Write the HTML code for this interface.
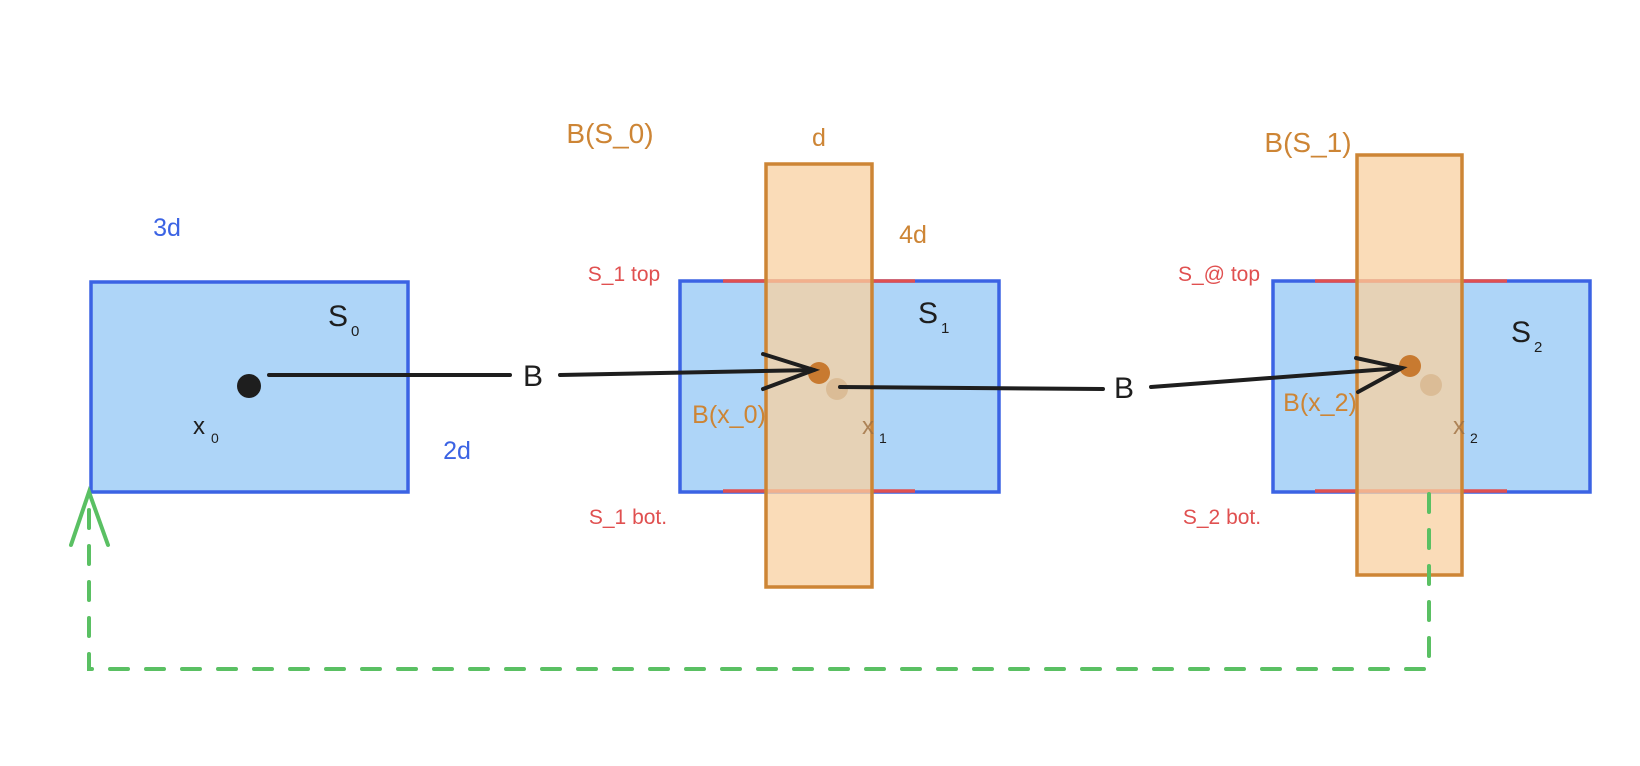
<!DOCTYPE html>
<html><head><meta charset="utf-8"><style>
html,body{margin:0;padding:0;background:#fff;}
svg{display:block;}
text{font-family:"Liberation Sans",sans-serif;}
</style></head><body>
<svg width="1640" height="766" viewBox="0 0 1640 766" xmlns="http://www.w3.org/2000/svg">
<rect width="1640" height="766" fill="#fff"/>
<!-- S0 -->
<rect x="91" y="282" width="317" height="210" fill="#aed5f8" stroke="#3b63e4" stroke-width="3.5"/>
<!-- S1 -->
<rect x="680" y="281" width="319" height="211" fill="#aed5f8" stroke="#3b63e4" stroke-width="3.5"/>
<line x1="723" y1="281" x2="915" y2="281" stroke="#e05050" stroke-width="3.5"/>
<line x1="723" y1="491" x2="915" y2="491" stroke="#e05050" stroke-width="3.5"/>
<!-- S2 -->
<rect x="1273" y="281" width="317" height="211" fill="#aed5f8" stroke="#3b63e4" stroke-width="3.5"/>
<line x1="1315" y1="281" x2="1507" y2="281" stroke="#e05050" stroke-width="3.5"/>
<line x1="1315" y1="491" x2="1507" y2="491" stroke="#e05050" stroke-width="3.5"/>
<!-- orange bands -->
<rect x="766" y="164" width="106" height="423" fill="#f8d0a0" fill-opacity="0.75" stroke="#cd8535" stroke-width="3.5"/>
<rect x="1357" y="155" width="105" height="420" fill="#f8d0a0" fill-opacity="0.75" stroke="#cd8535" stroke-width="3.5"/>
<!-- dots -->
<circle cx="249" cy="386" r="12" fill="#1e1e1e"/>
<circle cx="819" cy="373" r="11" fill="#c87a30"/>
<circle cx="837" cy="389" r="11" fill="#d8b890" opacity="0.85"/>
<circle cx="1410" cy="366" r="11" fill="#c87a30"/>
<circle cx="1431" cy="385" r="11" fill="#d8b890" opacity="0.85"/>
<!-- arrows -->
<g stroke="#1e1e1e" stroke-width="4" fill="none" stroke-linecap="round">
<line x1="269" y1="375" x2="510" y2="375"/>
<line x1="560" y1="375" x2="814" y2="370"/>
<polyline points="763,354 814,370 763,389"/>
<line x1="840" y1="387" x2="1103" y2="389"/>
<line x1="1151" y1="387" x2="1402" y2="368"/>
<polyline points="1356,358 1402,368 1358,392"/>
</g>
<!-- green dashed -->
<g stroke="#5ac063" stroke-width="4" fill="none" stroke-linecap="round">
<polyline points="1429,494 1429,669 89,669 89,495" stroke-dasharray="18 18"/>
<polyline points="71,545 89,492 108,545"/>
</g>
<!-- labels -->
<g font-size="25" text-anchor="middle">
<text x="167" y="236" fill="#3b63e4">3d</text>
<text x="457" y="459" fill="#3b63e4">2d</text>
<text x="610" y="143" fill="#cd8535" font-size="28">B(S_0)</text>
<text x="819" y="146" fill="#cd8535">d</text>
<text x="913" y="243" fill="#cd8535">4d</text>
<text x="1308" y="152" fill="#cd8535" font-size="28">B(S_1)</text>
<text x="729" y="423" fill="#cd8535">B(x_0)</text>
<text x="1320" y="411" fill="#cd8535">B(x_2)</text>
<text x="624" y="281" fill="#e05050" font-size="21">S_1 top</text>
<text x="628" y="524" fill="#e05050" font-size="21">S_1 bot.</text>
<text x="1219" y="281" fill="#e05050" font-size="21">S_@ top</text>
<text x="1222" y="524" fill="#e05050" font-size="21">S_2 bot.</text>
</g>
<g fill="#1e1e1e">
<text x="328" y="326" font-size="30">S</text><text x="351" y="336" font-size="15">0</text>
<text x="918" y="323" font-size="30">S</text><text x="941" y="333" font-size="15">1</text>
<text x="1511" y="342" font-size="30">S</text><text x="1534" y="352" font-size="15">2</text>
<text x="193" y="434" font-size="24">x</text><text x="211" y="443" font-size="14">0</text>
<text x="862" y="434" font-size="24" fill="#a07040" opacity="0.8">x</text><text x="879" y="443" font-size="14">1</text>
<text x="1453" y="434" font-size="24" fill="#a07040" opacity="0.8">x</text><text x="1470" y="443" font-size="14">2</text>
<text x="533" y="386" font-size="30" text-anchor="middle">B</text>
<text x="1124" y="398" font-size="30" text-anchor="middle">B</text>
</g>
</svg>
</body></html>
